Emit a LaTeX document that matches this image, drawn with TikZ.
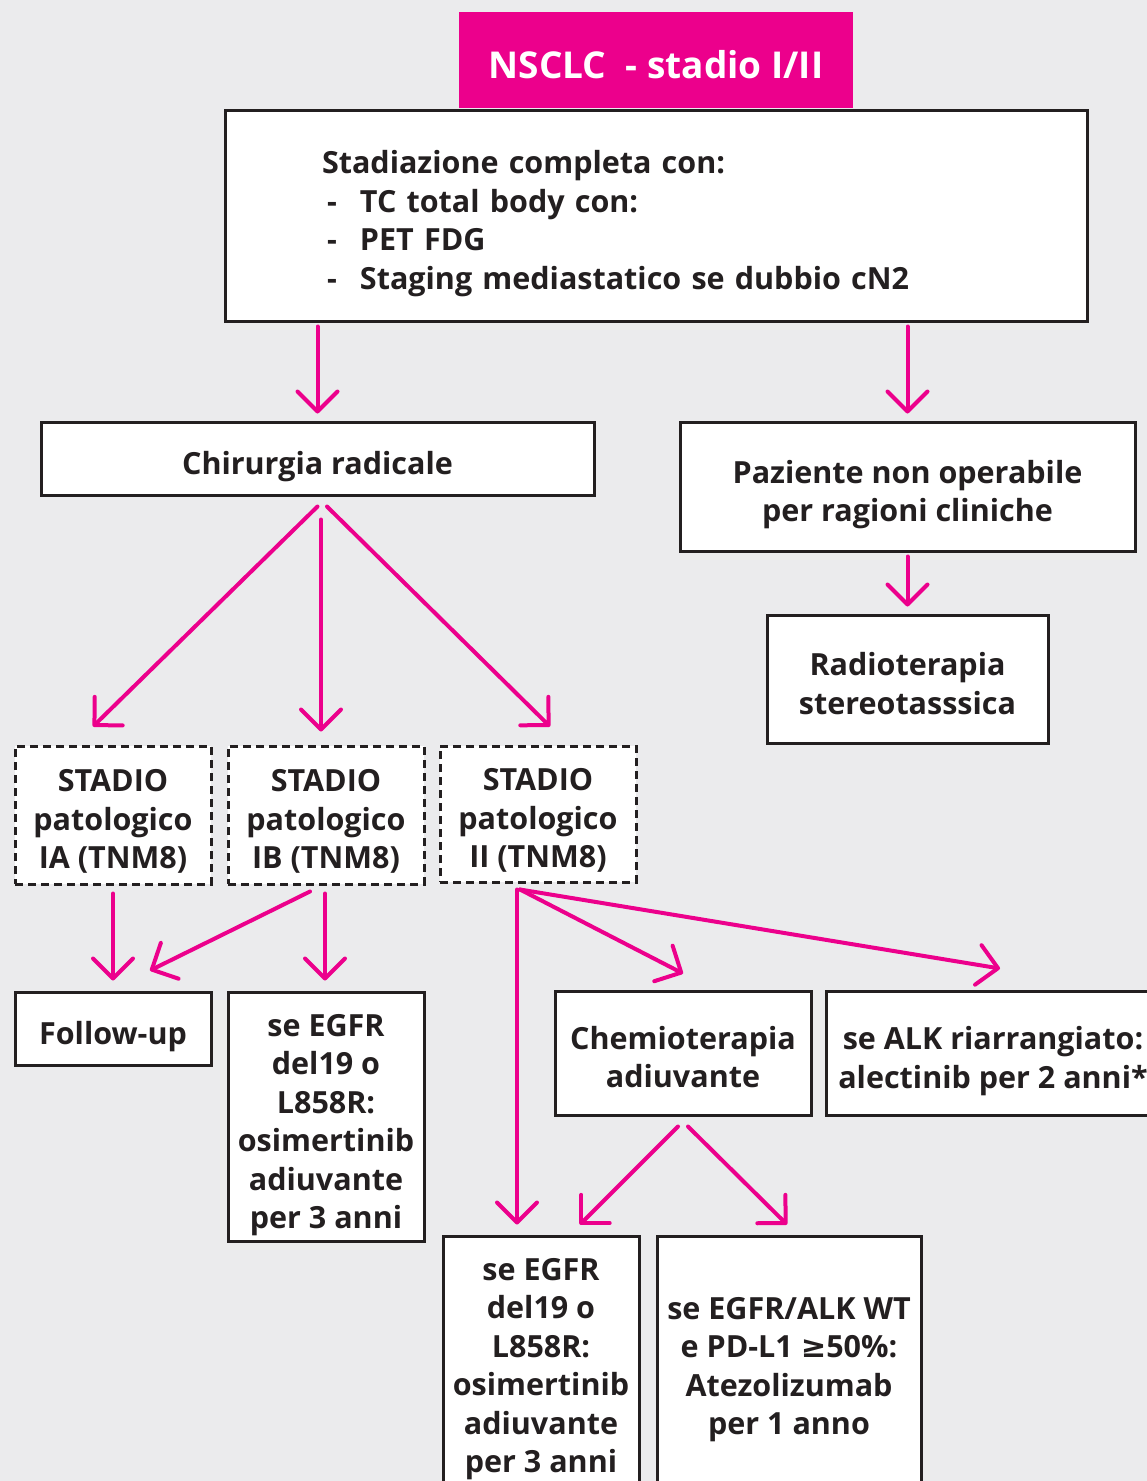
\documentclass[tikz,border=0pt]{standalone}
\usepackage{fontspec}
\setmainfont{Open Sans}
\usetikzlibrary{arrows.meta,calc}
\definecolor{bg}{HTML}{EBEBED}
\definecolor{mag}{HTML}{EC008C}
\definecolor{ink}{HTML}{231F20}
\newcommand\lowr[1]{\rule{0pt}{#1pt}}
\tikzset{
  box/.style={draw=ink, line width=3pt, fill=white, inner sep=0pt, align=center,
    font=\bfseries\fontsize{30.5}{38.5}\selectfont, text=ink,
    execute at begin node={\rule{0pt}{39pt}}},
  dbox/.style={box, dash pattern=on 8pt off 5pt},
  arr/.style={draw=mag, line width=4pt, line cap=round,
    -{Straight Barb[length=20pt,width=40pt,round]}},
}
\begin{document}
\begin{tikzpicture}[x=1pt,y=-1pt]
\useasboundingbox (0,0) rectangle (1147,1481);
\clip (0,0) rectangle (1147,1481);
\fill[bg] (0,0) rectangle (1147,1481);

\node[box, minimum width=862pt, minimum height=211pt, text width=668pt, align=left] (stag) at (656,215.5)
  {Stadiazione completa con:\\
   \makebox[38pt][l]{\,-}TC total body con:\\
   \makebox[38pt][l]{\,-}PET FDG\\
   \makebox[38pt][l]{\,-}Staging mediastatico se dubbio cN2};
\node[fill=mag, text=white, inner sep=0pt, minimum width=394pt, minimum height=96pt,
  font=\bfseries\fontsize{37}{38}\selectfont] (title) at (656,60) {\rule{0pt}{38pt}NSCLC\ \ - stadio I/II};

\node[box, minimum width=553pt, minimum height=73pt] (chir) at (317.5,458.5) {Chirurgia radicale};
\node[box, minimum width=455pt, minimum height=129pt] (paz) at (907.5,486.5) {\lowr{39}Paziente non operabile\\per ragioni cliniche};
\node[box, minimum width=281pt, minimum height=128pt] (radio) at (907.5,679) {\lowr{32}Radioterapia\\stereotasssica};

\node[dbox, minimum width=196pt, minimum height=138pt] (sIA) at (113,815) {\lowr{35}STADIO\\patologico\\IA (TNM8)};
\node[dbox, minimum width=196pt, minimum height=138pt] (sIB) at (326,815) {\lowr{35}STADIO\\patologico\\IB (TNM8)};
\node[dbox, minimum width=196pt, minimum height=136pt] (sII) at (538,814) {\lowr{35}STADIO\\patologico\\II (TNM8)};

\node[box, minimum width=196pt, minimum height=73pt] (fu) at (113,1028.5) {Follow-up};
\node[box, minimum width=196pt, minimum height=249pt] (egfrA) at (326,1116.5) {\lowr{32}se EGFR\\del19 o\\L858R:\\osimertinib\\adiuvante\\\raisebox{0pt}[\height][0pt]{per 3 anni}};
\node[box, minimum width=256pt, minimum height=124pt] (chemio) at (683,1053) {\lowr{31}Chemioterapia\\adiuvante};
\node[box, minimum width=334pt, minimum height=124pt] (alk) at (993,1053) {\lowr{39}se ALK riarrangiato:\\alectinib per 2 anni*};
\node[box, minimum width=196pt, minimum height=258pt] (egfrB) at (541,1365) {\lowr{30}se EGFR\\del19 o\\L858R:\\osimertinib\\adiuvante\\per 3 anni};
\node[box, minimum width=264pt, minimum height=258pt] (atezo) at (789,1365) {\lowr{31}se EGFR/ALK WT\\e PD-L1 {\fontspec{DejaVu Sans}\bfseries ≥}50\%:\\Atezolizumab\\per 1 anno};

\draw[arr] ($(stag.south -| chir.north)+(0,4)$) -- ($(chir.north)+(0,-7)$);
\draw[arr] ($(stag.south -| paz.north)+(0,4)$) -- ($(paz.north)+(0,-7)$);
\draw[arr] ($(paz.south)+(0,4)$) -- ($(radio.north)+(0,-7)$);

\draw[arr] ($(chir.south)+(0,10)$) -- ($(sIA.north)+(-20,-18)$);
\draw[arr] ($(chir.south)+(3.5,23)$) -- ($(sIB.north)+(-5,-13)$);
\draw[arr] ($(chir.south)+(9.5,10)$) -- ($(sII.north)+(12,-18)$);

\draw[arr] ($(sIA.south)+(0,8)$) -- ($(fu.north)+(0,-10)$);
\draw[arr] ($(sIB.south)+(-16,6)$) -- ($(fu.north)+(37,-20)$);
\draw[arr] ($(sIB.south)+(-1,8)$) -- ($(egfrA.north)+(-1,-10)$);

\draw[arr] ($(sII.south)+(-21,6)$) -- ($(egfrB.north)+(-24,-10)$);
\draw[arr] ($(sII.south)+(-18,6)$) -- ($(chemio.north)+(0,-16)$);
\draw[arr] ($(sII.south)+(-18,6)$) -- ($(alk.north)+(7,-21)$);

\draw[arr] ($(chemio.south)+(-5,10)$) -- ($(egfrB.north)+(39,-10)$);
\draw[arr] ($(chemio.south)+(5,10)$) -- ($(atezo.north)+(-2,-10)$);
\end{tikzpicture}
\end{document}
